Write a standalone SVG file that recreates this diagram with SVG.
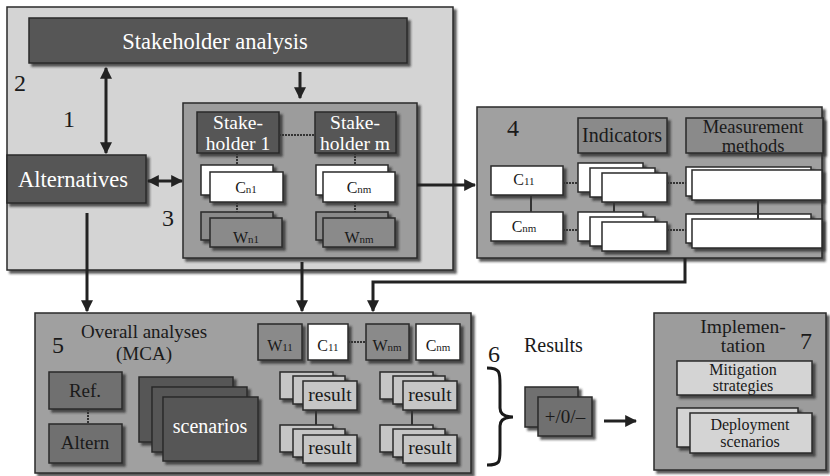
<svg xmlns="http://www.w3.org/2000/svg" width="830" height="476" viewBox="0 0 830 476" font-family="'Liberation Serif', 'Times New Roman', 'DejaVu Serif', serif">
<defs>
<filter id="sh" x="-10%" y="-10%" width="130%" height="130%">
<feDropShadow dx="3" dy="3" stdDeviation="1" flood-color="#333" flood-opacity="0.8"/>
</filter>
<marker id="ah" viewBox="0 0 10 10" refX="9" refY="5" markerWidth="4" markerHeight="4" orient="auto-start-reverse">
<path d="M0,0 L10,5 L0,10 z" fill="#222"/>
</marker>
<style>
text{font-family:'Liberation Serif','Times New Roman','DejaVu Serif',serif;}
.b{stroke:#2a2a2a;stroke-width:1.5;filter:url(#sh);}
.lt{fill:#d4d4d4}
.md{fill:#a0a0a0}
.dk{fill:#575757}
.dg{fill:#707070}
.gw{fill:#8a8a8a}
.wh{fill:#ffffff}
.rs{fill:#c6c6c6}
.tw{fill:#ffffff;text-anchor:middle}
.tb{fill:#1a1a1a;text-anchor:middle}
.ln{stroke:#222;stroke-width:3;fill:none}
.dt{stroke:#333;stroke-width:2;stroke-dasharray:2,1;fill:none}
.th{stroke:#333;stroke-width:2;fill:none}
.num{fill:#1a1a1a;font-size:24px}
</style>
</defs>
<rect width="830" height="476" fill="#ffffff"/>

<g id="box1">
<rect class="b lt" x="7" y="7" width="446" height="263"/>
<text class="num" x="14" y="91">2</text>
<text class="num" x="63" y="127">1</text>
<text class="num" x="162" y="226">3</text>
</g>

<g id="stakeholder-analysis">
<rect class="b dk" x="29" y="18" width="378" height="45"/>
<text class="tw" x="215" y="49" font-size="22.5">Stakeholder analysis</text>
</g>

<g id="alternatives">
<rect class="b dk" x="7" y="155" width="139" height="48"/>
<text class="tw" x="73" y="187" font-size="22.5">Alternatives</text>
</g>

<g id="box3">
<rect class="b" x="183" y="103" width="234" height="155" fill="#9c9c9c"/>
</g>

<g id="stakeholder1">
<rect class="b dk" x="197" y="112" width="82" height="41"/>
<text class="tw" x="238" y="129" font-size="19.5">Stake-</text>
<text class="tw" x="238" y="149.5" font-size="19.5">holder 1</text>
</g>

<g id="stakeholderm">
<rect class="b dk" x="315" y="112" width="81" height="41"/>
<text class="tw" x="355" y="129" font-size="19.5">Stake-</text>
<text class="tw" x="355" y="149.5" font-size="19.5">holder m</text>
</g>

<g id="cn1">
<rect class="b wh" x="201" y="165" width="72" height="30"/>
<rect class="b wh" x="210" y="172" width="73" height="30"/>
<text class="tb" x="246" y="193" font-size="16">C<tspan font-size="11">n1</tspan></text>
</g>

<g id="cnm">
<rect class="b wh" x="316" y="165" width="72" height="30"/>
<rect class="b wh" x="323" y="172" width="72" height="30"/>
<text class="tb" x="359" y="193" font-size="16">C<tspan font-size="11">nm</tspan></text>
</g>

<g id="wn1">
<rect class="b gw" x="201" y="212" width="72" height="28"/>
<rect class="b gw" x="210" y="218" width="72" height="29"/>
<text class="tb" x="246" y="243" font-size="16">W<tspan font-size="11">n1</tspan></text>
</g>

<g id="wnm">
<rect class="b gw" x="316" y="212" width="72" height="28"/>
<rect class="b gw" x="323" y="218" width="72" height="29"/>
<text class="tb" x="359" y="243" font-size="16">W<tspan font-size="11">nm</tspan></text>
</g>

<g id="box4">
<rect class="b md" x="477" y="107" width="345" height="151"/>
<text class="num" x="507" y="136">4</text>
</g>

<g id="indicators">
<rect class="b gw" x="578" y="118" width="89" height="35"/>
<text class="tb" x="622" y="142" font-size="20">Indicators</text>
<rect class="b wh" x="578" y="163" width="65" height="29"/>
<rect class="b wh" x="590" y="168" width="65" height="29"/>
<rect class="b wh" x="602" y="173" width="65" height="29"/>
<rect class="b wh" x="578" y="212" width="65" height="29"/>
<rect class="b wh" x="590" y="217" width="65" height="29"/>
<rect class="b wh" x="602" y="222" width="65" height="29"/>
</g>

<g id="measurement">
<rect class="b gw" x="686" y="118" width="137" height="35"/>
<text class="tb" x="753" y="133" font-size="18.5">Measurement</text>
<text class="tb" x="753" y="152" font-size="18.5">methods</text>
<rect class="b wh" x="686" y="167" width="125" height="29"/>
<rect class="b wh" x="692" y="170" width="130" height="30"/>
<rect class="b wh" x="686" y="214" width="125" height="29"/>
<rect class="b wh" x="692" y="219" width="130" height="29"/>
</g>

<g id="c11-4">
<rect class="b wh" x="491" y="166" width="72" height="29"/>
<text class="tb" x="524" y="185" font-size="16">C<tspan font-size="11">11</tspan></text>
</g>

<g id="cnm-4">
<rect class="b wh" x="491" y="212" width="72" height="29"/>
<text class="tb" x="524" y="232" font-size="16">C<tspan font-size="11">nm</tspan></text>
</g>

<g id="box5">
<rect class="b md" x="35" y="313" width="436" height="160"/>
<text class="num" x="52" y="353">5</text>
<text class="tb" x="144" y="338" font-size="19">Overall analyses</text>
<text class="tb" x="144" y="360" font-size="19">(MCA)</text>
</g>

<g id="w11">
<rect class="b gw" x="258" y="324" width="44" height="36"/>
<text class="tb" x="280" y="351" font-size="16">W<tspan font-size="11">11</tspan></text>
</g>
<g id="c11-5">
<rect class="b wh" x="308" y="324" width="40" height="36"/>
<text class="tb" x="328" y="351" font-size="16">C<tspan font-size="11">11</tspan></text>
</g>
<g id="wnm-5">
<rect class="b gw" x="366" y="324" width="43" height="36"/>
<text class="tb" x="387" y="351" font-size="16">W<tspan font-size="11">nm</tspan></text>
</g>
<g id="cnm-5">
<rect class="b wh" x="416" y="324" width="44" height="36"/>
<text class="tb" x="438" y="351" font-size="16">C<tspan font-size="11">nm</tspan></text>
</g>

<g id="ref">
<rect class="b dg" x="49" y="372" width="73" height="37"/>
<text class="tb" x="85" y="397" font-size="19">Ref.</text>
</g>
<g id="altern">
<rect class="b dg" x="49" y="424" width="73" height="39"/>
<text class="tb" x="85" y="449" font-size="19">Altern</text>
</g>

<g id="scenarios">
<rect class="b dk" x="139" y="377" width="94" height="65"/>
<rect class="b dk" x="152" y="387" width="95" height="65"/>
<rect class="b dk" x="163" y="397" width="95" height="64"/>
<text class="tw" x="210" y="433" font-size="20">scenarios</text>
</g>

<g id="result11">
<rect class="b rs" x="280" y="372" width="53" height="27"/>
<rect class="b rs" x="293" y="376" width="52" height="28"/>
<rect class="b rs" x="303" y="381" width="54" height="29"/>
<text class="tb" x="330" y="401" font-size="19.5">result</text>
</g>
<g id="result12">
<rect class="b rs" x="280" y="425" width="53" height="27"/>
<rect class="b rs" x="293" y="429" width="52" height="28"/>
<rect class="b rs" x="303" y="435" width="54" height="28"/>
<text class="tb" x="330" y="454" font-size="19.5">result</text>
</g>
<g id="result21">
<rect class="b rs" x="380" y="372" width="53" height="27"/>
<rect class="b rs" x="393" y="376" width="52" height="28"/>
<rect class="b rs" x="403" y="381" width="54" height="29"/>
<text class="tb" x="430" y="401" font-size="19.5">result</text>
</g>
<g id="result22">
<rect class="b rs" x="380" y="425" width="53" height="27"/>
<rect class="b rs" x="393" y="429" width="52" height="28"/>
<rect class="b rs" x="403" y="435" width="54" height="28"/>
<text class="tb" x="430" y="454" font-size="19.5">result</text>
</g>

<g id="results6">
<text class="num" x="488" y="362">6</text>
<text fill="#1a1a1a" x="524" y="352" font-size="20">Results</text>
<path d="M487,368 C500,368 500,372 500,385 L500,408 C500,414 504,417 513,417 C504,417 500,420 500,426 L500,450 C500,462 500,465 487,465" stroke="#1a1a1a" stroke-width="3" fill="none"/>
<rect class="b dg" x="525" y="387" width="53" height="40"/>
<rect class="b dg" x="538" y="397" width="54" height="39"/>
<text class="tb" x="565" y="423" font-size="19">+/0/–</text>
</g>

<g id="box7">
<rect class="b" x="654" y="313" width="172" height="157" fill="#9c9c9c"/>
<text class="tb" x="743" y="333" font-size="19.5">Implemen-</text>
<text class="tb" x="743" y="352" font-size="19.5">tation</text>
<text class="num" x="800" y="349" font-size="22">7</text>
</g>
<g id="mitigation">
<rect class="b lt" x="677" y="361" width="135" height="34"/>
<text class="tb" x="743" y="375" font-size="16">Mitigation</text>
<text class="tb" x="743" y="391" font-size="16">strategies</text>
</g>
<g id="deployment">
<rect class="b lt" x="677" y="408" width="121" height="39"/>
<rect class="b lt" x="690" y="413" width="122" height="40"/>
<text class="tb" x="750" y="430" font-size="16">Deployment</text>
<text class="tb" x="750" y="447" font-size="16">scenarios</text>
</g>

<g id="connectors">
<line class="ln" x1="106" y1="68" x2="106" y2="153" marker-start="url(#ah)" marker-end="url(#ah)"/>
<line class="ln" x1="300" y1="72" x2="300" y2="98" marker-end="url(#ah)"/>
<line class="ln" x1="148" y1="181" x2="182" y2="181" marker-start="url(#ah)" marker-end="url(#ah)"/>
<line class="ln" x1="417" y1="185" x2="475" y2="185" marker-end="url(#ah)"/>
<line class="ln" x1="87" y1="213" x2="87" y2="311" marker-end="url(#ah)"/>
<line class="ln" x1="302" y1="262" x2="302" y2="311" marker-end="url(#ah)"/>
<polyline class="ln" points="685,258 685,282 373,282 373,311" marker-end="url(#ah)"/>
<line class="ln" x1="604" y1="421" x2="636" y2="421" marker-end="url(#ah)"/>
<line class="dt" x1="279" y1="135" x2="315" y2="135"/>
<line class="dt" x1="237" y1="153" x2="237" y2="165"/>
<line class="dt" x1="355" y1="153" x2="355" y2="165"/>
<line class="dt" x1="237" y1="202" x2="237" y2="212"/>
<line class="dt" x1="355" y1="202" x2="355" y2="212"/>
<line class="th" x1="531" y1="195" x2="531" y2="212"/>
<line class="dt" x1="563" y1="183" x2="578" y2="183"/>
<line class="dt" x1="563" y1="230" x2="578" y2="230"/>
<line class="th" x1="614" y1="202" x2="614" y2="212"/>
<line class="dt" x1="667" y1="183" x2="686" y2="183"/>
<line class="dt" x1="667" y1="230" x2="686" y2="230"/>
<line class="th" x1="758" y1="200" x2="758" y2="219"/>
<line class="dt" x1="348" y1="342" x2="366" y2="342"/>
<line class="dt" x1="88" y1="409" x2="88" y2="424"/>
<line class="th" x1="316" y1="410" x2="316" y2="425"/>
<line class="th" x1="412" y1="410" x2="412" y2="425"/>
</g>
</svg>
